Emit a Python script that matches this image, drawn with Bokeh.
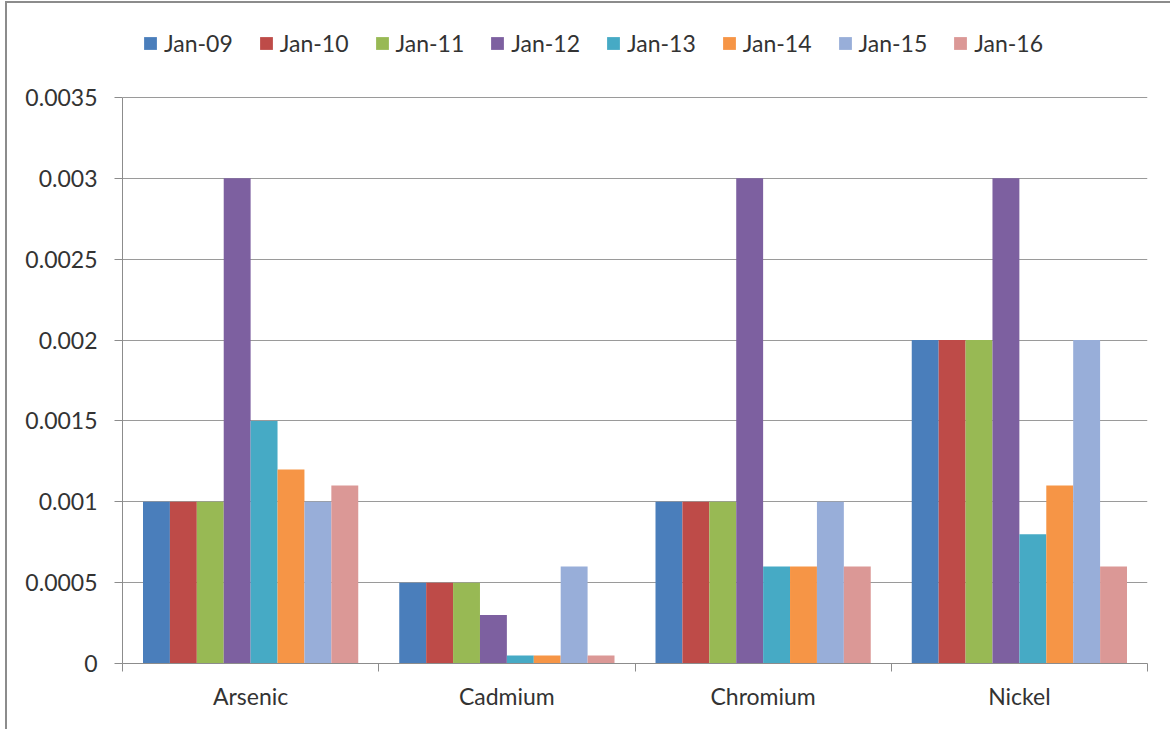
from bokeh.plotting import figure
from bokeh.models import (ColumnDataSource, FactorRange, Range1d, LinearAxis, CategoricalAxis,
                          FixedTicker, Grid, Legend, LegendItem, CustomLabelingPolicy)
from bokeh.transform import dodge
from bokeh.embed import file_html
from bokeh.resources import INLINE

# ---- data ----
metals = ["Arsenic", "Cadmium", "Chromium", "Nickel"]
series_names = ["Jan-09", "Jan-10", "Jan-11", "Jan-12", "Jan-13", "Jan-14", "Jan-15", "Jan-16"]
jan09 = [0.001, 0.0005, 0.001, 0.002]
jan10 = [0.001, 0.0005, 0.001, 0.002]
jan11 = [0.001, 0.0005, 0.001, 0.002]
jan12 = [0.003, 0.0003, 0.003, 0.003]
jan13 = [0.0015, 0.00005, 0.0006, 0.0008]
jan14 = [0.0012, 0.00005, 0.0006, 0.0011]
jan15 = [0.001, 0.0006, 0.001, 0.002]
jan16 = [0.0011, 0.00005, 0.0006, 0.0006]
y_ticks = [0, 0.0005, 0.001, 0.0015, 0.002, 0.0025, 0.003, 0.0035]
y_tick_labels = ["0", "0.0005", "0.001", "0.0015", "0.002", "0.0025", "0.003", "0.0035"]

colors = ["#4A7EBB", "#BE4B48", "#98B954", "#7D60A0", "#46AAC5", "#F69546", "#98AED9", "#DB9896"]

FONT = "Lato"
TXT = "#333333"

# layout (page pixels)
OFF_X, OFF_Y = 7, 3          # canvas origin after the outer border
FRAME_L, FRAME_R = 122, 1147
PLOT_TOP, PLOT_BOT = 97, 663  # where 0.0035 and 0 sit
FRAME_TOP = 15                # frame extended upward to hold the legend
y_max = y_ticks[-1]
y_end = y_max * (PLOT_BOT - FRAME_TOP) / (PLOT_BOT - PLOT_TOP)

src = ColumnDataSource(dict(metal=metals, s0=jan09, s1=jan10, s2=jan11, s3=jan12,
                            s4=jan13, s5=jan14, s6=jan15, s7=jan16))

p = figure(x_range=FactorRange(*metals), y_range=Range1d(0, y_end),
           frame_width=FRAME_R - FRAME_L, frame_height=PLOT_BOT - FRAME_TOP,
           min_border_left=FRAME_L - OFF_X, min_border_right=1170 - FRAME_R,
           min_border_top=FRAME_TOP - OFF_Y, min_border_bottom=729 - PLOT_BOT,
           x_axis_location=None, y_axis_location=None,
           output_backend="svg", toolbar_location=None, tools="")
p.styles = {"border-top": "2px solid #8C8C8C", "border-left": "2px solid #8C8C8C",
            "margin-left": "5px", "margin-top": "1px"}
p.outline_line_color = None
p.background_fill_color = "white"
p.border_fill_color = "white"
p.xgrid.visible = False
p.ygrid.visible = False

# y axis
yax = LinearAxis(ticker=FixedTicker(ticks=y_ticks), bounds=(0, y_max),
                 major_label_overrides={t: l for t, l in zip(y_ticks, y_tick_labels)})
yax.axis_line_color = "#8C8C8C"
yax.major_tick_line_color = "#8C8C8C"
yax.major_tick_out = 8
yax.major_tick_in = 0
yax.minor_tick_line_color = None
yax.major_label_text_font = FONT
yax.major_label_text_font_size = "23px"
yax.major_label_text_color = TXT
yax.major_label_standoff = 17
p.add_layout(yax, "left")

grid = Grid(dimension=1, ticker=FixedTicker(ticks=y_ticks))
grid.grid_line_color = "#9A9A9A"
grid.grid_line_width = 1
p.add_layout(grid)

# x tick-mark axis (ticks on category boundaries, synthetic coordinates), no labels
tax = LinearAxis(ticker=FixedTicker(ticks=list(range(len(metals) + 1))),
                 major_label_policy=CustomLabelingPolicy(
                     code="for (const i of indices) { indices.unset(i) }\nreturn indices"))
tax.axis_line_color = "#8C8C8C"
tax.major_tick_line_color = "#8C8C8C"
tax.major_tick_out = 8
tax.major_tick_in = 0
tax.minor_tick_line_color = None
tax.major_label_text_font_size = "1px"
tax.major_label_standoff = 0
p.add_layout(tax, "below")

# category label axis
cax = CategoricalAxis()
cax.axis_line_color = None
cax.major_tick_line_color = None
cax.major_tick_out = 0
cax.major_tick_in = 0
cax.major_label_text_font = FONT
cax.major_label_text_font_size = "23px"
cax.major_label_text_color = TXT
cax.major_label_standoff = 6
p.add_layout(cax, "below")

n = len(series_names)
bw = 0.84 / n
items = []
for i, name in enumerate(series_names):
    off = (i - (n - 1) / 2) * bw
    r = p.vbar(x=dodge("metal", off, range=p.x_range), top="s%d" % i, width=bw,
               source=src, fill_color=colors[i], line_color=None)
    items.append(LegendItem(label=name, renderers=[r]))

leg = Legend(items=items, orientation="horizontal", location=(20, PLOT_BOT - 57))
leg.border_line_color = None
leg.background_fill_alpha = 0
leg.padding = 0
leg.margin = 0
leg.spacing = 25
leg.glyph_width = 16
leg.glyph_height = 16
leg.label_standoff = 6
leg.label_text_font = FONT
leg.label_text_font_size = "23px"
leg.label_text_color = TXT
p.add_layout(leg, "center")

open("out.html", "w").write(file_html(p, INLINE))
